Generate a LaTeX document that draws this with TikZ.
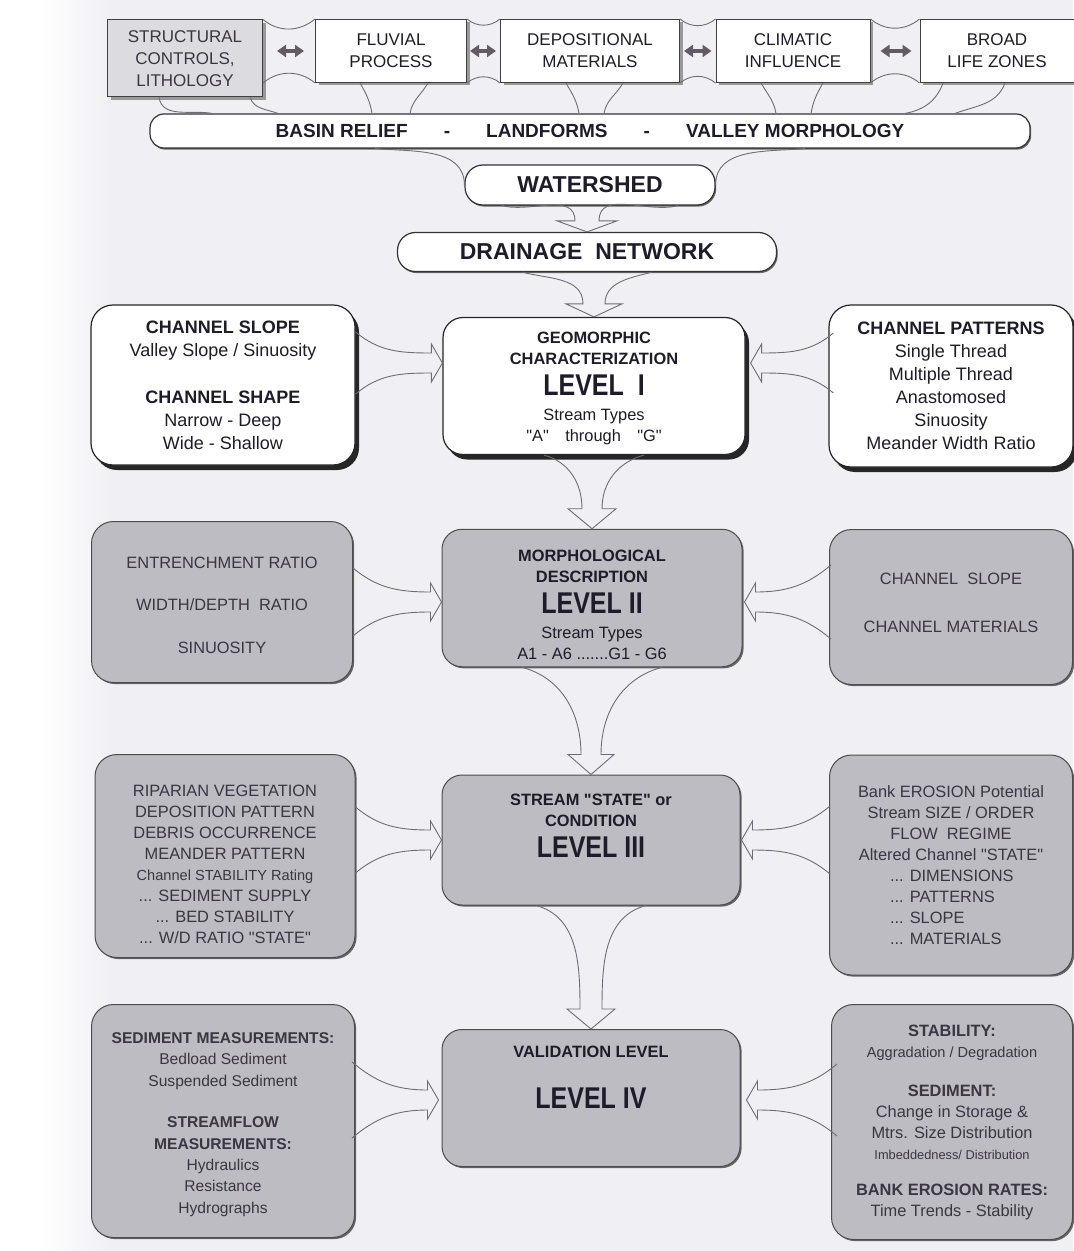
\documentclass[tikz,border=0pt]{standalone}
\usepackage{fontspec}
\setmainfont{Liberation Sans}
\usepackage{graphicx}
\usepackage{tikz}
\usetikzlibrary{arrows.meta}
\usetikzlibrary{calc,shadows}

\definecolor{pagebg}{RGB}{240,240,244}
\definecolor{boxgray}{RGB}{188,188,194}
\definecolor{lightbox}{RGB}{220,220,224}
\definecolor{ink}{RGB}{30,28,40}
\definecolor{grayink}{RGB}{58,54,66}
\definecolor{lineclr}{RGB}{110,108,118}
\definecolor{dblclr}{RGB}{100,90,102}

\newcommand{\lvtitle}[1]{\scalebox{1}[1.2]{\fontsize{12.5}{15}\selectfont\bfseries #1}}
\newcommand{\dq}{\textquotedbl}
\newcommand{\downfunnel}[6]{%
  \draw[funnel] ($(#1.south)+(-#3,0)$) to[out=-15,in=90] ($(#2.north)+(-#4,#6)$) -- ($(#2.north)+(-#5,#6)$) -- (#2.north) -- ($(#2.north)+(#5,#6)$) -- ($(#2.north)+(#4,#6)$) to[out=90,in=-165] ($(#1.south)+(#3,0)$);}
\newcommand{\rightfunnel}[4]{%
  \draw[funnel] ($(#1.east |- #2.west)+(0,#4)+(#3)$) to[out=-40,in=180] ($(#2.west)+(#3)+(-11,10)$) -- ++(0,9) -- ($(#2.west)+(#3)$) -- ($(#2.west)+(#3)+(-11,-19)$) -- ++(0,9) to[out=180,in=40] ($(#1.east |- #2.west)+(0,-#4)+(#3)$);}
\newcommand{\leftfunnel}[4]{%
  \draw[funnel] ($(#1.west |- #2.east)+(0,#4)+(#3)$) to[out=-140,in=0] ($(#2.east)+(#3)+(11,10)$) -- ++(0,9) -- ($(#2.east)+(#3)$) -- ($(#2.east)+(#3)+(11,-19)$) -- ++(0,9) to[out=0,in=140] ($(#1.west |- #2.east)+(0,-#4)+(#3)$);}

\begin{document}
\begin{tikzpicture}
	[x=0.5pt, y=0.5pt,
	 top/.style = {draw=black!75, line width=0.5pt, fill=white, align=center, text=ink, minimum height=31.5pt, font=\fontsize{8.5}{11}\selectfont, drop shadow={shadow xshift=1.5pt, shadow yshift=-1.5pt, fill=black!40, opacity=1}},
	 pill/.style = {draw=black!80, line width=0.6pt, fill=white, rounded corners=9pt, text=ink, font=\fontsize{11.5}{13}\selectfont\bfseries, drop shadow={shadow xshift=0.6pt, shadow yshift=-0.8pt, fill=black!60, opacity=1}},
	 wbox/.style = {draw=black!85, line width=0.6pt, fill=white, rounded corners=11pt, align=center, text=ink, font=\fontsize{9}{11.5}\selectfont, drop shadow={shadow xshift=2pt, shadow yshift=-2.5pt, fill=black!85, opacity=1}},
	 gbox/.style = {draw=black!70, line width=0.5pt, fill=boxgray, rounded corners=11pt, align=center, text=grayink, font=\fontsize{8.2}{10.5}\selectfont, drop shadow={shadow xshift=0.8pt, shadow yshift=-0.8pt, fill=black!60, opacity=1}},
	 funnel/.style = {draw=lineclr, line width=0.45pt},
	 dbl/.style = {draw=dblclr, line width=1.6pt, {Triangle[length=4.5pt,width=6pt]}-{Triangle[length=4.5pt,width=6pt]}}]
	\fill[pagebg] (0,0) rectangle (1073,-1251);
	\fill[white] (0,0) rectangle (40,-1251);
	\shade[left color=white, right color=pagebg] (40,0) rectangle (110,-1251);
	\useasboundingbox (0,0) rectangle (1073,-1251);

	\node[top, fill=lightbox, text=grayink, minimum width=77.5pt, minimum height=38.5pt] (struct) at (185,-58.5) {STRUCTURAL\\CONTROLS,\\LITHOLOGY};
	\node[top, minimum width=75.5pt] (fluv) at (391,-51) {FLUVIAL\\PROCESS};
	\node[top, minimum width=89.5pt] (depo) at (590,-51) {DEPOSITIONAL\\MATERIALS};
	\node[top, minimum width=77pt] (clim) at (793,-51) {CLIMATIC\\INFLUENCE};
	\node[top, minimum width=77pt] (life) at (997,-51) {BROAD\\LIFE ZONES};

	\node[pill, rounded corners=7pt, minimum width=440pt, minimum height=17pt, font=\fontsize{9.5}{11}\selectfont\bfseries] (relief) at (590,-131) {BASIN RELIEF\hspace{1.9em}-\hspace{1.9em}LANDFORMS\hspace{1.9em}-\hspace{1.9em}VALLEY MORPHOLOGY};
	\node[pill, minimum width=125pt, minimum height=20pt] (shed) at (590,-185) {WATERSHED};
	\node[pill, minimum width=189.5pt, minimum height=19.5pt] (drain) at (587,-252) {DRAINAGE\ \ NETWORK};

	\node[wbox, rounded corners=10pt, minimum width=151pt, minimum height=68.5pt, font=\fontsize{8.2}{10.5}\selectfont] (lvI) at (594,-386) {\rule{0pt}{8pt}\textbf{GEOMORPHIC}\\\textbf{CHARACTERIZATION}\\[5pt]\lvtitle{LEVEL\ \ I}\\[2pt]Stream Types\\\dq A\dq\quad through\quad\dq G\dq};
	\node[wbox, minimum width=132pt, minimum height=80pt] (slope) at (223,-385) {\textbf{CHANNEL SLOPE}\\Valley Slope / Sinuosity\\[12pt]\textbf{CHANNEL SHAPE}\\Narrow - Deep\\Wide - Shallow};
	\node[wbox, minimum width=122pt, minimum height=81pt] (pattern) at (951,-386) {\textbf{CHANNEL PATTERNS}\\Single Thread\\Multiple Thread\\Anastomosed\\Sinuosity\\Meander Width Ratio};

	\node[gbox, rounded corners=10pt, text=ink, minimum width=150pt, minimum height=63.5pt] (lvII) at (592,-598) {\rule{0pt}{13pt}\textbf{MORPHOLOGICAL}\\\textbf{DESCRIPTION}\\[5pt]\lvtitle{LEVEL II}\\[2pt]Stream Types\\A1 - A6 .......G1 - G6};
	\node[gbox, minimum width=130.5pt, minimum height=80.5pt] (ratios) at (222,-602) {\rule{0pt}{9pt}ENTRENCHMENT RATIO\\[10.75pt]WIDTH/DEPTH\ \ RATIO\\[10.75pt]SINUOSITY};
	\node[gbox, minimum width=121.5pt, minimum height=77.5pt] (controls) at (951,-607) {CHANNEL\ \ SLOPE\\[13.5pt]CHANNEL MATERIALS\\[-6.5pt]\mbox{}};

	\node[gbox, rounded corners=10pt, text=ink, minimum width=149pt, minimum height=65pt] (lvIII) at (591,-840) {\textbf{STREAM \dq STATE\dq\ or}\\\textbf{CONDITION}\\[5pt]\lvtitle{LEVEL III}\\[3.5pt]\mbox{}};
	\node[gbox, minimum width=130pt, minimum height=101.5pt] (riparian) at (225,-856) {\rule{0pt}{14pt}RIPARIAN VEGETATION\\DEPOSITION PATTERN\\DEBRIS OCCURRENCE\\MEANDER PATTERN\\{\fontsize{7.3}{10.5}\selectfont Channel STABILITY Rating}\\... SEDIMENT SUPPLY\\... BED STABILITY\\... W/D RATIO \dq STATE\dq};
	\node[gbox, minimum width=121.5pt, minimum height=110pt] (regime) at (951,-865) {Bank EROSION Potential\\Stream SIZE / ORDER\\FLOW\ \ REGIME\\Altered Channel \dq STATE\dq\\\makebox[61pt][l]{... DIMENSIONS}\\\makebox[61pt][l]{... PATTERNS}\\\makebox[61pt][l]{... SLOPE}\\\makebox[61pt][l]{... MATERIALS}};

	\node[gbox, rounded corners=10pt, text=ink, minimum width=149pt, minimum height=68.5pt] (lvIV) at (591,-1098) {\textbf{VALIDATION LEVEL}\\[15pt]\lvtitle{LEVEL IV}\\[10.5pt]\mbox{}};
	\node[gbox, minimum width=131.5pt, minimum height=116.5pt, font=\fontsize{7.8}{10.7}\selectfont] (measure) at (223,-1121) {\rule{0pt}{9pt}\textbf{SEDIMENT MEASUREMENTS:}\\Bedload Sediment\\Suspended Sediment\\[10pt]\textbf{STREAMFLOW}\\\textbf{MEASUREMENTS:}\\Hydraulics\\Resistance\\Hydrographs};
	\node[gbox, minimum width=120.5pt, minimum height=117.5pt] (rates) at (952,-1122) {\textbf{STABILITY:}\\{\fontsize{7.3}{10}\selectfont Aggradation / Degradation}\\[9pt]\textbf{SEDIMENT:}\\Change in Storage \&\\Mtrs. Size Distribution\\{\fontsize{6.4}{9}\selectfont Imbeddedness/ Distribution}\\[7.5pt]\textbf{BANK EROSION RATES:}\\Time Trends - Stability};

	\draw[dbl, shorten <=7pt, shorten >=5.5pt] (struct.east |- fluv.west) -- (fluv.west);
	\draw[dbl, shorten <=1.5pt, shorten >=2pt] (fluv.east) -- (depo.west);
	\draw[dbl, shorten <=2pt, shorten >=2pt] (depo.east) -- (clim.west);
	\draw[dbl, shorten <=5pt, shorten >=4pt] (clim.east) -- (life.west);

	\draw[funnel] (struct.north east) to[out=-40,in=-140] (fluv.north west);
	\draw[funnel] (struct.east |- fluv.south) to[out=40,in=140] (fluv.south west);
	\draw[funnel] (fluv.north east) to[out=-40,in=-140] (depo.north west);
	\draw[funnel] (fluv.south east) to[out=40,in=140] (depo.south west);
	\draw[funnel] (depo.north east) to[out=-40,in=-140] (clim.north west);
	\draw[funnel] (depo.south east) to[out=40,in=140] (clim.south west);
	\draw[funnel] (clim.north east) to[out=-40,in=-140] (life.north west);
	\draw[funnel] (clim.south east) to[out=40,in=140] (life.south west);

	\draw[funnel] ($(struct.south)+(-26,0)$) to[out=-80,in=170] ($(struct.south |- relief.north)+(27,0)$);
	\draw[funnel] ($(struct.south)+(65,0)$) to[out=-70,in=160] ($(struct.south |- relief.north)+(93,0)$);
	\draw[funnel] ($(fluv.south)+(-31,0)$) to[out=-60,in=100] ($(fluv.south |- relief.north)+(-19,0)$);
	\draw[funnel] ($(fluv.south)+(37,0)$) to[out=-120,in=80] ($(fluv.south |- relief.north)+(19,0)$);
	\draw[funnel] ($(depo.south)+(-24,0)$) to[out=-60,in=100] ($(depo.south |- relief.north)+(-11,0)$);
	\draw[funnel] ($(depo.south)+(33,0)$) to[out=-120,in=80] ($(depo.south |- relief.north)+(14,0)$);
	\draw[funnel] ($(clim.south)+(-32,0)$) to[out=-60,in=100] ($(clim.south |- relief.north)+(-17,0)$);
	\draw[funnel] ($(clim.south)+(30,0)$) to[out=-120,in=80] ($(clim.south |- relief.north)+(18,0)$);
	\draw[funnel] ($(life.south)+(-54,0)$) to[out=-110,in=10] ($(life.south |- relief.north)+(-92,0)$);
	\draw[funnel] ($(life.south)+(8,0)$) to[out=-110,in=20] ($(life.south |- relief.north)+(-42,0)$);

	\draw[funnel] ($(relief.south)+(-215,0)$) to[out=-5,in=90] (shed.west);
	\draw[funnel] ($(relief.south)+(215,0)$) to[out=-175,in=90] (shed.east);

	\downfunnel{shed}{drain}{88}{12}{30}{11}
	\downfunnel{drain}{lvI}{65}{11}{28}{13}
	\downfunnel{lvI}{lvII}{50}{10}{24}{20}
	\downfunnel{lvII}{lvIII}{70}{10}{23}{20}
	\downfunnel{lvIII}{lvIV}{55}{11}{24}{20}

	\rightfunnel{slope}{lvI}{0,23}{31}
	\rightfunnel{ratios}{lvII}{0,-4}{34}
	\rightfunnel{riparian}{lvIII}{0,0}{33}
	\rightfunnel{measure}{lvIV}{-3,-2}{38}
	\leftfunnel{pattern}{lvI}{5,23}{30}
	\leftfunnel{controls}{lvII}{2,-4}{37}
	\leftfunnel{regime}{lvIII}{1,0}{34}
	\leftfunnel{rates}{lvIV}{6,-2}{36}
\end{tikzpicture}
\end{document}
